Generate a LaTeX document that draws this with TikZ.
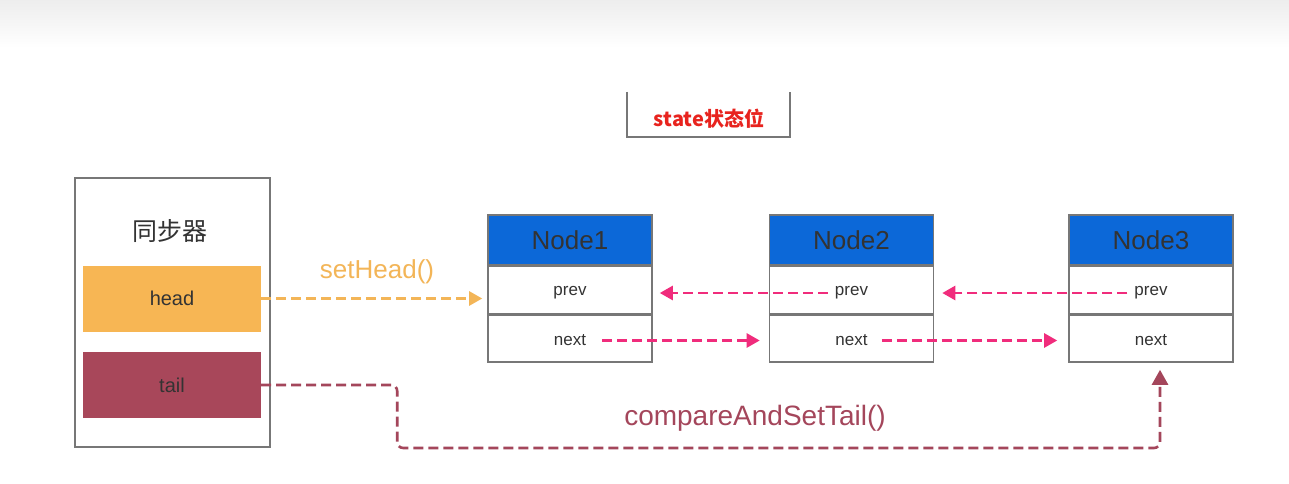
\documentclass[tikz,border=0pt]{standalone}
\usepackage{fontspec}
\setmainfont{Liberation Sans}
\newfontfamily\cjk{Noto Sans CJK SC}
\usetikzlibrary{arrows.meta}
\definecolor{bordergray}{HTML}{777777}
\definecolor{hdrblue}{HTML}{0C68D8}
\definecolor{headorange}{HTML}{F7B654}
\definecolor{tailred}{HTML}{A8475A}
\definecolor{arrpink}{HTML}{F02C7C}
\definecolor{arrorange}{HTML}{F3B557}
\definecolor{arrred}{HTML}{A4465B}
\definecolor{txtdark}{HTML}{333333}
\definecolor{statered}{HTML}{E8231E}
\tikzset{
  box/.style={draw=bordergray, line width=1.6pt, inner sep=0pt, minimum width=164pt},
  hdr/.style={box, fill=hdrblue, minimum height=50pt, text=txtdark, font=\fontsize{26}{28}\selectfont},
  rowbox/.style={box, fill=white, minimum height=48pt},
  rowlbl/.style={inner sep=1pt, text=txtdark, font=\fontsize{17}{19}\selectfont},
  field/.style={inner sep=0pt, minimum width=178pt, minimum height=66pt, text=txtdark, font=\fontsize{20}{22}\selectfont},
  dasharrow/.style={line width=2.6pt, dash pattern=on 10pt off 5pt, -{Triangle[length=13pt,width=14pt]}},
  pinkarrow/.style={dasharrow, draw=arrpink},
}
\begin{document}
\begin{tikzpicture}[x=1pt,y=-1pt]
\useasboundingbox (0,0) rectangle (1289,484);
\fill[white] (0,0) rectangle (1289,484);
\shade[top color=gray!14, bottom color=white] (0,0) rectangle (1289,48);

% state box
\node[inner sep=0pt, text=statered, font=\cjk\bfseries\fontsize{20}{22}\selectfont] (state) at (709,119) {state状态位};
\draw[draw=bordergray, line width=1.6pt] (627,92) -- (627,137) -- (790,137) -- (790,92);

% synchronizer
\node[draw=bordergray, line width=1.8pt, minimum width=195pt, minimum height=269pt, inner sep=0pt] (sync) at (172.5,312.5) {};
\node[text=txtdark, font=\cjk\fontsize{25}{27}\selectfont] (synclbl) at (170,231) {同步器};
\node[field, fill=headorange] (head) at (172,298.5) {head};
\node[field, fill=tailred] (tail) at (172,385) {tail};

% linked nodes
\foreach \i/\x in {1/570, 2/851.5, 3/1151} {
  \node[hdr] (n\i h) at (\x,240) {Node\i};
  \node[rowbox] (n\i p) at (\x,290) {};
  \node[rowbox, minimum height=47pt] (n\i n) at (\x,338.5) {};
  \node[rowlbl] (n\i pt) at ([yshift=-3pt]n\i p.center) {prev};
  \node[rowlbl] (n\i nt) at ([yshift=-2pt]n\i n.center) {next};
}

% setHead
\draw[dasharrow, draw=arrorange, shorten >=5pt] (head.east) -- (head.east -| n1p.west);
\node[text=arrorange, font=\fontsize{26}{28}\selectfont] (sethead) at (377,272) {setHead()};

% prev arrows
\draw[pinkarrow, shorten <=6pt, shorten >=7pt] (n2pt.west) -- (n2pt.west -| n1p.east);
\draw[pinkarrow, shorten <=6pt, shorten >=8pt] (n3pt.west) -- (n3pt.west -| n2p.east);
% next arrows
\draw[pinkarrow, shorten <=15pt, shorten >=9pt] (n1nt.east) -- (n1nt.east -| n2n.west);
\draw[pinkarrow, shorten <=13pt, shorten >=11pt] (n2nt.east) -- (n2nt.east -| n3n.west);

% tail arrow
\coordinate (tb) at (1160,448);
\draw[dasharrow, draw=arrred, rounded corners=6pt, shorten >=7pt, -{Triangle[length=15pt,width=16pt]}]
  (tail.east) -- ++(136,0) -- ++(0,63) -- (tb) -- (tb |- n3n.south);
\node[text=arrred, font=\fontsize{28}{30}\selectfont] (cas) at (755,418) {compareAndSetTail()};
\end{tikzpicture}
\end{document}
